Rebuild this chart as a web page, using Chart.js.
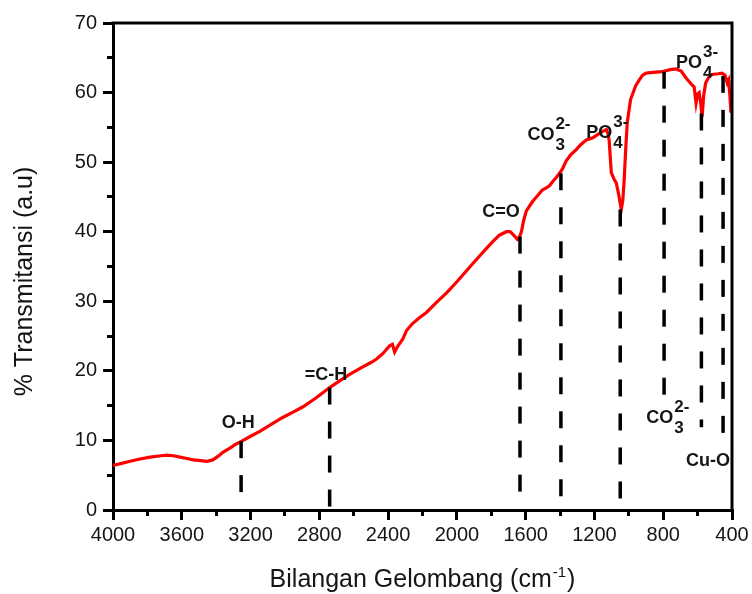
<!DOCTYPE html>
<html><head><meta charset="utf-8">
<script src="https://cdn.jsdelivr.net/npm/chart.js@4.4.0/dist/chart.umd.min.js"></script>
<style>html,body{margin:0;padding:0;background:#fff;}canvas{display:block;}</style>
</head><body>
<canvas id="c" width="752" height="594"></canvas>
<script>
// ---- data ----
const wavenumber = [4000,3950,3900,3850,3785,3720,3686,3650,3611,3570,3535,3490,3454,3420,3390,3361,3320,3290,3251,3200,3146,3080,3013,2950,2897,2820,2740,2680,2624,2560,2500,2467,2430,2391,2375,2362,2345,2316,2293,2258,2220,2177,2120,2060,2000,1944,1890,1828,1790,1753,1712,1690,1670,1648,1635,1625,1610,1596,1561,1530,1503,1480,1462,1440,1422,1400,1387,1364,1340,1306,1280,1247,1210,1180,1154,1131,1120,1114,1102,1085,1073,1060,1044,1035,1027,1018,1009,990,960,940,920,899,860,806,760,725,696,667,640,620,609,600,591,582,574,565,553,535,516,480,458,440,428,420,412,406];
const transmittance = [6.4,6.7,7.0,7.3,7.6,7.8,7.9,7.8,7.6,7.4,7.2,7.1,7.0,7.2,7.7,8.3,8.9,9.4,9.9,10.6,11.3,12.3,13.3,14.1,14.8,16.1,17.6,18.6,19.5,20.4,21.2,21.7,22.5,23.6,23.8,22.7,23.5,24.5,25.8,26.8,27.6,28.4,29.8,31.2,32.8,34.4,35.9,37.6,38.6,39.5,40.0,40.0,39.5,38.9,39.3,40.0,41.8,43.0,44.3,45.2,46.0,46.3,46.6,47.3,47.8,48.5,49.0,50.2,51.0,51.8,52.5,53.2,53.5,54.0,54.4,54.7,54.0,53.0,48.5,47.5,47.0,45.5,43.2,44.5,47.5,52.0,55.7,59.0,61.0,61.8,62.5,62.8,62.9,63.0,63.3,63.4,63.1,62.1,61.3,60.8,58.5,59.8,60.0,58.5,56.5,59.5,61.4,62.2,62.6,62.7,62.8,62.5,61.4,61.8,59.5,57.1];

// band marker lines (wavenumber, top value, bottom value)
const bandWavenumber = [3255,2740,1633,1395,1050,795,578,452];
const bandTop        = [9.9,17.6,39.3,48.4,43.2,63.0,57.0,62.4];
const bandBottom     = [2.4,0.0,2.4,1.0,1.0,16.2,11.9,10.5];

// band labels
const labelText       = ['O-H','=C-H','C=O','CO','PO','PO','CO','Cu-O'];
const labelSub        = ['','','','3','4','4','3',''];
const labelSup        = ['','','','2-','3-','3-','2-',''];
const labelWavenumber = [3367,2885,1852,1590,1248,725,899,667];
const labelValue      = [12.5,19.4,42.8,53.9,54.2,64.25,13.2,7.0];

const xMajorTicks = [4000,3600,3200,2800,2400,2000,1600,1200,800,400];
const xMinorTicks = [3800,3400,3000,2600,2200,1800,1400,1000,600];
const yMajorTicks = [0,10,20,30,40,50,60,70];
const yMinorTicks = [5,15,25,35,45,55,65];

const xTitle = 'Bilangan Gelombang (cm';
const xTitleSup = '-1';
const yTitle = '% Transmitansi (a.u)';

// ---- chart ----
const FONT = '"Liberation Sans", Arial, Helvetica, sans-serif';
const TXT = '#151515';

const datasets = [{
  label: 'FTIR',
  data: wavenumber.map((w, i) => ({x: w, y: transmittance[i]})),
  borderColor: '#ff0000',
  borderWidth: 3.2,
  pointRadius: 0,
  tension: 0,
  order: 2
}];
bandWavenumber.forEach((w, i) => {
  datasets.push({
    label: 'band' + i,
    data: [{x: w, y: bandTop[i]}, {x: w, y: bandBottom[i]}],
    borderColor: '#000',
    borderWidth: 3.5,
    borderDash: [17, 17],
    pointRadius: 0,
    order: 1
  });
});

const setTicks = arr => s => { s.ticks = arr.map(v => ({value: v})); };
const plain = v => String(v);

const decorPlugin = {
  id: 'decor',
  afterDatasetsDraw(chart) {
    const ctx = chart.ctx, xs = chart.scales.x, ys = chart.scales.y;
    ctx.save();
    ctx.fillStyle = TXT;
    ctx.textBaseline = 'middle';
    ctx.textAlign = 'left';
    labelText.forEach((t, i) => {
      const px = xs.getPixelForValue(labelWavenumber[i]);
      const py = ys.getPixelForValue(labelValue[i]);
      ctx.font = 'bold 18px ' + FONT;
      ctx.fillText(t, px, py);
      const w = ctx.measureText(t).width;
      ctx.font = 'bold 17px ' + FONT;
      if (labelSub[i]) ctx.fillText(labelSub[i], px + w + 1, py + 10);
      if (labelSup[i]) ctx.fillText(labelSup[i], px + w + 1, py - 11);
    });
    ctx.restore();
  },
  afterDraw(chart) {
    const ctx = chart.ctx, a = chart.chartArea;
    ctx.save();
    // frame top & right
    ctx.strokeStyle = '#000';
    ctx.lineWidth = 3;
    ctx.beginPath();
    ctx.moveTo(a.left - 1.5, a.top);
    ctx.lineTo(a.right, a.top);
    ctx.lineTo(a.right, a.bottom + 1.5);
    ctx.stroke();
    // x title
    ctx.fillStyle = TXT;
    ctx.textBaseline = 'alphabetic';
    ctx.textAlign = 'left';
    ctx.font = '25px ' + FONT;
    const w1 = ctx.measureText(xTitle).width;
    const w3 = ctx.measureText(')').width;
    ctx.font = '15px ' + FONT;
    const w2 = ctx.measureText(xTitleSup).width;
    const cx = (a.left + a.right) / 2;
    const sx = cx - (w1 + w2 + w3 + 2) / 2;
    const by = chart.height - 7;
    ctx.font = '25px ' + FONT;
    ctx.fillText(xTitle, sx, by);
    ctx.font = '15px ' + FONT;
    ctx.fillText(xTitleSup, sx + w1 + 1, by - 10);
    ctx.font = '25px ' + FONT;
    ctx.fillText(')', sx + w1 + w2 + 2, by);
    // y title
    ctx.translate(32, (a.top + a.bottom) / 2 + 15);
    ctx.rotate(-Math.PI / 2);
    ctx.textAlign = 'center';
    ctx.font = '25px ' + FONT;
    ctx.fillText(yTitle, 0, 0);
    ctx.restore();
  }
};

new Chart(document.getElementById('c'), {
  type: 'line',
  data: {datasets},
  options: {
    responsive: false,
    animation: false,
    events: [],
    layout: {padding: {top: 23, right: 20, left: 0, bottom: 0}},
    plugins: {legend: {display: false}, tooltip: {enabled: false}, title: {display: false}},
    scales: {
      x: {
        type: 'linear', position: 'bottom', min: 400, max: 4000, reverse: true, weight: 1,
        afterBuildTicks: setTicks(xMajorTicks),
        afterFit: s => { s.height = 84; },
        grid: {drawOnChartArea: false, drawTicks: true, tickLength: 10, color: '#000', lineWidth: 3},
        border: {display: true, color: '#000', width: 3},
        ticks: {font: {family: FONT, size: 20}, color: TXT, padding: 3, maxRotation: 0, autoSkip: false, callback: plain}
      },
      xm: {
        type: 'linear', position: 'bottom', min: 400, max: 4000, reverse: true, weight: 0,
        afterBuildTicks: setTicks(xMinorTicks),
        afterFit: s => { s.height = 0; },
        grid: {drawOnChartArea: false, drawTicks: true, tickLength: 6, color: '#000', lineWidth: 3},
        border: {display: false},
        ticks: {display: false}
      },
      y: {
        type: 'linear', position: 'left', min: 0, max: 70, weight: 1,
        afterBuildTicks: setTicks(yMajorTicks),
        afterFit: s => { s.width = 113; },
        grid: {drawOnChartArea: false, drawTicks: true, tickLength: 10, color: '#000', lineWidth: 3},
        border: {display: true, color: '#000', width: 3},
        ticks: {font: {family: FONT, size: 20}, color: TXT, padding: 6, autoSkip: false, callback: plain}
      },
      ym: {
        type: 'linear', position: 'left', min: 0, max: 70, weight: 0,
        afterBuildTicks: setTicks(yMinorTicks),
        afterFit: s => { s.width = 0; },
        grid: {drawOnChartArea: false, drawTicks: true, tickLength: 6, color: '#000', lineWidth: 3},
        border: {display: false},
        ticks: {display: false}
      }
    }
  },
  plugins: [decorPlugin]
});
</script>
</body></html>
